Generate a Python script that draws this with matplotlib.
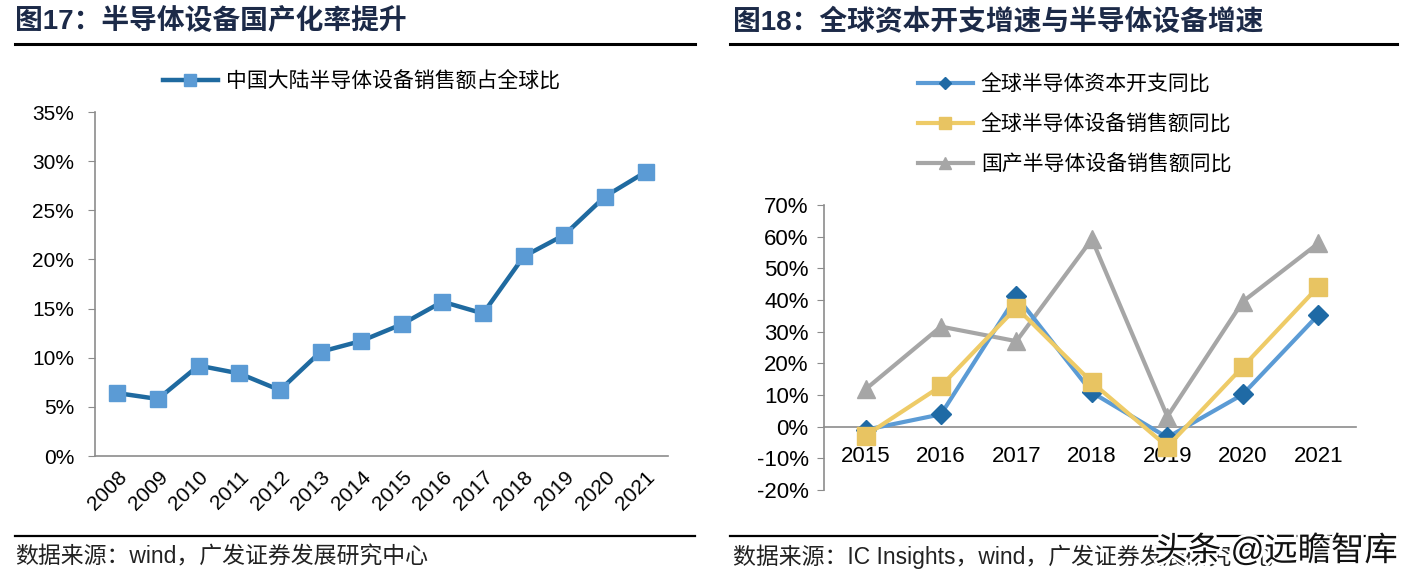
import matplotlib.pyplot as plt
import matplotlib.patheffects as pe
from matplotlib.lines import Line2D
import numpy as np

plt.rcParams['font.family'] = ['Liberation Sans', 'Noto Sans CJK SC', 'DejaVu Sans']

# 数据
years_l = ['2008', '2009', '2010', '2011', '2012', '2013', '2014',
           '2015', '2016', '2017', '2018', '2019', '2020', '2021']
share_cn = [6.4, 5.8, 9.2, 8.4, 6.7, 10.6, 11.7, 13.4, 15.7, 14.5, 20.3, 22.5, 26.4, 28.9]

years_r = ['2015', '2016', '2017', '2018', '2019', '2020', '2021']
capex_yoy = [-1.0, 3.9, 41.2, 10.8, -3.4, 10.2, 35.3]
equip_yoy = [-2.8, 12.8, 37.6, 14.0, -6.3, 18.9, 44.2]
cn_equip_yoy = [11.8, 31.6, 27.0, 59.2, 3.2, 39.5, 57.9]

W, H = 1412, 586
fig = plt.figure(figsize=(W / 100, H / 100), dpi=100)
fig.patch.set_facecolor('white')


def px(x0, y0, x1, y1):
    # 像素坐标 -> figure 坐标
    return [x0 / W, 1 - y1 / H, (x1 - x0) / W, (y1 - y0) / H]


navy = '#1c2a48'
grey_axis = '#8c8c8c'

# 标题和分隔线
fig.text(15 / W, 1 - 22 / H, '图17：半导体设备国产化率提升', fontsize=20,
         fontweight='bold', color=navy, va='center', ha='left')
fig.text(733 / W, 1 - 22 / H, '图18：全球资本开支增速与半导体设备增速', fontsize=20,
         fontweight='bold', color=navy, va='center', ha='left')
for x0, x1 in [(15, 695), (730, 1397)]:
    fig.add_artist(Line2D([x0 / W, x1 / W], [1 - 44 / H] * 2, color='black', lw=2.2))
    fig.add_artist(Line2D([x0 / W, x1 / W], [1 - 536 / H] * 2, color='black', lw=1.6))

fig.text(15 / W, 1 - 557 / H, '数据来源：wind，广发证券发展研究中心', fontsize=16.5,
         color='#222222', va='center', ha='left')
fig.text(733 / W, 1 - 557 / H, '数据来源：IC Insights，wind，广发证券发展研究中心', fontsize=16.5,
         color='#222222', va='center', ha='left')
# 水印（参考图中压在来源文字上）
fig.text(1398 / W, 1 - 551 / H, '头条 @远瞻智库', fontsize=24, color='#111111',
         va='center', ha='right',
         path_effects=[pe.withStroke(linewidth=4, foreground='white')])

# 左图
ax = fig.add_axes(px(95, 112, 668, 456))
x = np.arange(len(years_l))
ax.plot(x, [v / 100 for v in share_cn], color='#1f6aa0', lw=3.2, marker='s',
        markersize=11, markerfacecolor='#5b9bd5', markeredgecolor='#5b9bd5',
        label='中国大陆半导体设备销售额占全球比')
ax.set_xlim(-0.55, len(years_l) - 0.45)
ax.set_ylim(0, 0.35)
ax.set_yticks(np.arange(0, 0.351, 0.05))
ax.set_yticklabels([f'{int(round(v * 100))}%' for v in np.arange(0, 0.351, 0.05)])
ax.set_xticks(x)
ax.set_xticklabels(years_l, rotation=45, ha='right', rotation_mode='anchor')
ax.tick_params(axis='y', labelsize=15, length=5, color=grey_axis, pad=10)
ax.tick_params(axis='x', labelsize=15, length=0, pad=8)
for s in ['top', 'right']:
    ax.spines[s].set_visible(False)
for s in ['left', 'bottom']:
    ax.spines[s].set_color(grey_axis)
    ax.spines[s].set_linewidth(1.2)
ax.legend(loc='lower left', bbox_to_anchor=(155 / W, 1 - 100 / H), bbox_transform=fig.transFigure,
          frameon=False, fontsize=15, handlelength=2.6, borderaxespad=0, handletextpad=0.4,
          markerscale=0.85)

# 右图
ax2 = fig.add_axes(px(824, 205, 1356, 490))
x2 = np.arange(len(years_r))
l1, = ax2.plot(x2, [v / 100 for v in capex_yoy], color='#5b9bd5', lw=3, marker='D',
               markersize=10, markerfacecolor='#1f6aa5', markeredgecolor='#1f6aa5',
               label='全球半导体资本开支同比', zorder=4)
l2, = ax2.plot(x2, [v / 100 for v in equip_yoy], color='#eecb67', lw=3, marker='s',
               markersize=13, markerfacecolor='#e8c462', markeredgecolor='#e8c462',
               label='全球半导体设备销售额同比', zorder=5)
l3, = ax2.plot(x2, [v / 100 for v in cn_equip_yoy], color='#a6a6a6', lw=3, marker='^',
               markersize=13, markerfacecolor='#a6a6a6', markeredgecolor='#a6a6a6',
               label='国产半导体设备销售额同比', zorder=3)
ax2.set_xlim(-0.55, len(years_r) - 0.5)
ax2.set_ylim(-0.2, 0.7)
yt = np.arange(-0.2, 0.701, 0.1)
ax2.set_yticks(yt)
ax2.set_yticklabels([f'{int(round(v * 100))}%' for v in yt])
ax2.set_xticks(x2)
ax2.set_xticklabels(years_r)
ax2.spines['bottom'].set_position(('data', 0))
for s in ['top', 'right']:
    ax2.spines[s].set_visible(False)
for s in ['left', 'bottom']:
    ax2.spines[s].set_color(grey_axis)
    ax2.spines[s].set_linewidth(1.2)
ax2.tick_params(axis='y', labelsize=16, length=5, color=grey_axis, pad=6)
ax2.tick_params(axis='x', labelsize=16, length=0, pad=14)
ax2.legend(handles=[l1, l2, l3], loc='upper left', bbox_to_anchor=(910 / W, 1 - 66 / H),
           bbox_transform=fig.transFigure, frameon=False, fontsize=15, handlelength=2.6,
           borderaxespad=0, handletextpad=0.4, labelspacing=0.95, markerscale=0.65)

plt.savefig('out.png', dpi=100, facecolor='w')
